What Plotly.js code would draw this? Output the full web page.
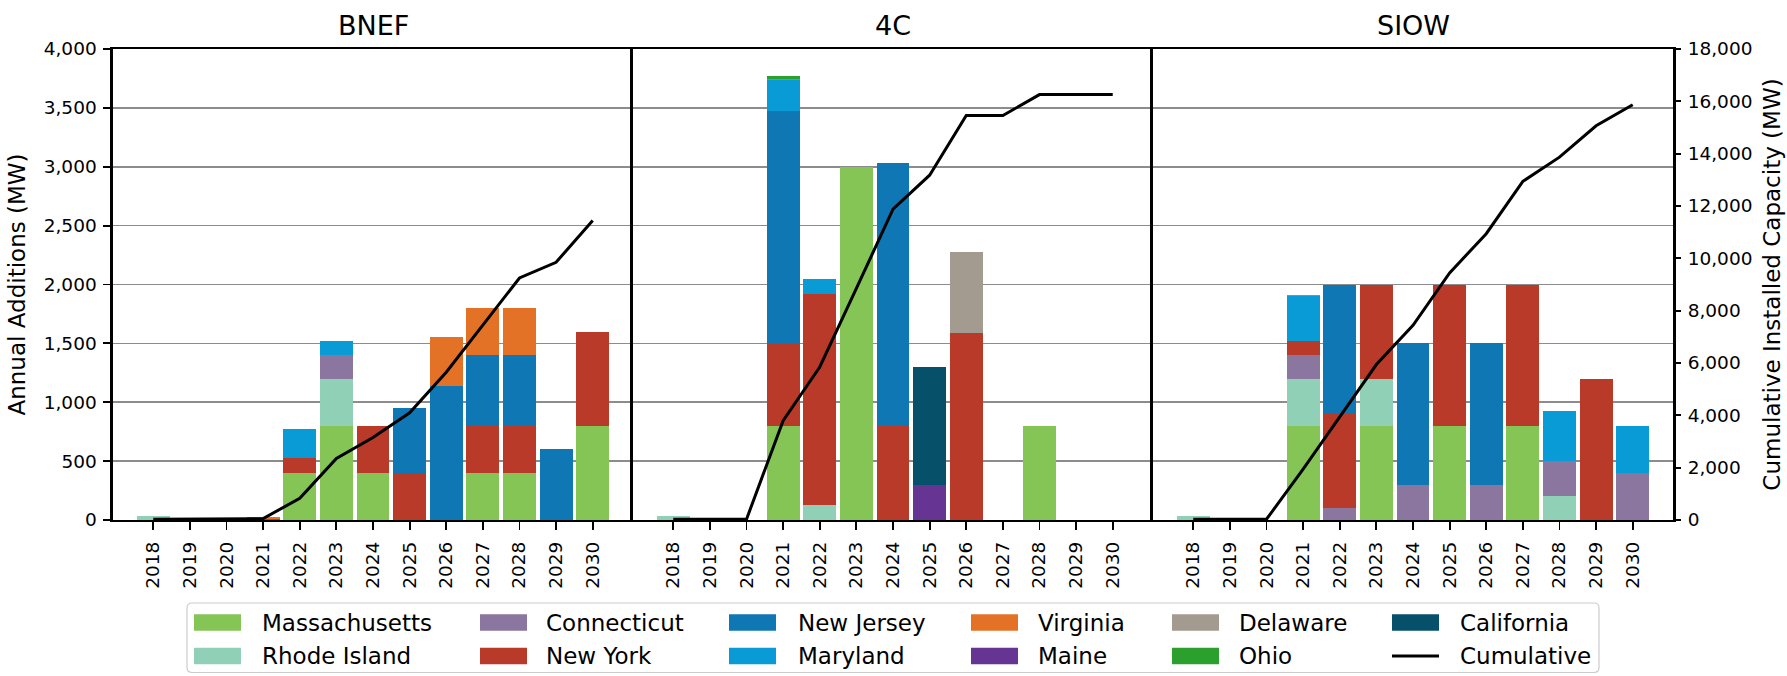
<!DOCTYPE html>
<html>
<head>
<meta charset="utf-8">
<script src="https://cdn.plot.ly/plotly-3.0.1.min.js"></script>
<style>html,body{margin:0;padding:0;background:#fff}#chart{width:1787px;height:676px}</style>
</head>
<body>
<div id="chart"></div>
<script>
// ---------------- DATA ----------------
const years = [2018, 2019, 2020, 2021, 2022, 2023, 2024, 2025, 2026, 2027, 2028, 2029, 2030];
const panelTitles = ['BNEF', '4C', 'SIOW'];
const stateNames = ['Massachusetts', 'Rhode Island', 'Connecticut', 'New York', 'New Jersey',
                    'Maryland', 'Virginia', 'Maine', 'Delaware', 'Ohio', 'California'];
const cumulativeName = 'Cumulative';
const leftTicks = [0, 500, 1000, 1500, 2000, 2500, 3000, 3500, 4000];
const rightTicks = [0, 2000, 4000, 6000, 8000, 10000, 12000, 14000, 16000, 18000];

// BNEF annual additions (MW)
const bnefMassachusetts = [0, 0, 0, 0, 400, 800, 400, 0, 0, 400, 400, 0, 800];
const bnefRhodeIsland   = [30, 0, 0, 0, 0, 400, 0, 0, 0, 0, 0, 0, 0];
const bnefConnecticut   = [0, 0, 0, 0, 0, 200, 0, 0, 0, 0, 0, 0, 0];
const bnefNewYork       = [0, 0, 0, 0, 125, 0, 400, 400, 0, 400, 400, 0, 800];
const bnefNewJersey     = [0, 0, 0, 12, 0, 0, 0, 550, 1140, 600, 600, 600, 0];
const bnefMaryland      = [0, 0, 0, 0, 250, 120, 0, 0, 0, 0, 0, 0, 0];
const bnefVirginia      = [0, 0, 0, 12, 0, 0, 0, 0, 410, 400, 400, 0, 0];
const bnefMaine         = [0, 0, 0, 0, 0, 0, 0, 0, 0, 0, 0, 0, 0];
const bnefDelaware      = [0, 0, 0, 0, 0, 0, 0, 0, 0, 0, 0, 0, 0];
const bnefOhio          = [0, 0, 0, 0, 0, 0, 0, 0, 0, 0, 0, 0, 0];
const bnefCalifornia    = [0, 0, 0, 0, 0, 0, 0, 0, 0, 0, 0, 0, 0];
const bnefCumulative    = [30, 30, 30, 54, 829, 2349, 3149, 4099, 5649, 7449, 9249, 9849, 11449];

// 4C annual additions (MW)
const fourcMassachusetts = [0, 0, 0, 800, 0, 3000, 0, 0, 0, 0, 800, 0, 0];
const fourcRhodeIsland   = [30, 0, 0, 0, 130, 0, 0, 0, 0, 0, 0, 0, 0];
const fourcConnecticut   = [0, 0, 0, 0, 0, 0, 0, 0, 0, 0, 0, 0, 0];
const fourcNewYork       = [0, 0, 0, 700, 1790, 0, 800, 0, 1590, 0, 0, 0, 0];
const fourcNewJersey     = [0, 0, 0, 1975, 0, 0, 2230, 0, 0, 0, 0, 0, 0];
const fourcMaryland      = [0, 0, 0, 260, 130, 0, 0, 0, 0, 0, 0, 0, 0];
const fourcVirginia      = [0, 0, 0, 12, 0, 0, 0, 0, 0, 0, 0, 0, 0];
const fourcMaine         = [0, 0, 0, 0, 0, 0, 0, 300, 0, 0, 0, 0, 0];
const fourcDelaware      = [0, 0, 0, 0, 0, 0, 0, 0, 690, 0, 0, 0, 0];
const fourcOhio          = [0, 0, 0, 21, 0, 0, 0, 0, 0, 0, 0, 0, 0];
const fourcCalifornia    = [0, 0, 0, 0, 0, 0, 0, 1000, 0, 0, 0, 0, 0];
const fourcCumulative    = [30, 30, 30, 3798, 5848, 8848, 11878, 13178, 15458, 15458, 16258, 16258, 16258];

// SIOW annual additions (MW)
const siowMassachusetts = [0, 0, 0, 800, 0, 800, 0, 800, 0, 800, 0, 0, 0];
const siowRhodeIsland   = [30, 0, 0, 400, 0, 400, 0, 0, 0, 0, 200, 0, 0];
const siowConnecticut   = [0, 0, 0, 200, 100, 0, 300, 0, 300, 0, 300, 0, 400];
const siowNewYork       = [0, 0, 0, 120, 800, 800, 0, 1200, 0, 1200, 0, 1200, 0];
const siowNewJersey     = [0, 0, 0, 0, 1100, 0, 1200, 0, 1200, 0, 0, 0, 0];
const siowMaryland      = [0, 0, 0, 380, 0, 0, 0, 0, 0, 0, 425, 0, 400];
const siowVirginia      = [0, 0, 0, 12, 0, 0, 0, 0, 0, 0, 0, 0, 0];
const siowMaine         = [0, 0, 0, 0, 0, 0, 0, 0, 0, 0, 0, 0, 0];
const siowDelaware      = [0, 0, 0, 0, 0, 0, 0, 0, 0, 0, 0, 0, 0];
const siowOhio          = [0, 0, 0, 0, 0, 0, 0, 0, 0, 0, 0, 0, 0];
const siowCalifornia    = [0, 0, 0, 0, 0, 0, 0, 0, 0, 0, 0, 0, 0];
const siowCumulative    = [30, 30, 30, 1942, 3942, 5942, 7442, 9442, 10942, 12942, 13867, 15067, 15867];

// ---------------- STYLE ----------------
const stateColors = ['#84c556', '#8fd0b7', '#8b76a0', '#b93a28', '#1077b5',
                     '#089bd6', '#e37227', '#663594', '#a39a90', '#2ca02c', '#06506a'];
const FONT = 'DejaVu Sans, Verdana, sans-serif';
const W = 1787, H = 676;
const M = {l: 113, r: 114, t: 49, b: 156};
const PW = W - M.l - M.r, PH = H - M.t - M.b;
const px = x => (x - M.l) / PW;
const py = y => (H - M.b - y) / PH;

const panels = [
  {series: [bnefMassachusetts, bnefRhodeIsland, bnefConnecticut, bnefNewYork, bnefNewJersey, bnefMaryland,
            bnefVirginia, bnefMaine, bnefDelaware, bnefOhio, bnefCalifornia], cum: bnefCumulative},
  {series: [fourcMassachusetts, fourcRhodeIsland, fourcConnecticut, fourcNewYork, fourcNewJersey, fourcMaryland,
            fourcVirginia, fourcMaine, fourcDelaware, fourcOhio, fourcCalifornia], cum: fourcCumulative},
  {series: [siowMassachusetts, siowRhodeIsland, siowConnecticut, siowNewYork, siowNewJersey, siowMaryland,
            siowVirginia, siowMaine, siowDelaware, siowOhio, siowCalifornia], cum: siowCumulative}
];

const traces = [];
panels.forEach((p, k) => {
  const xa = k === 0 ? 'x' : 'x' + (k + 1);
  const ya = k === 0 ? 'y' : 'y' + (k + 1);
  const yc = 'y' + (k + 4);
  p.series.forEach((vals, i) => {
    traces.push({
      type: 'bar', x: years, y: vals, name: stateNames[i],
      marker: {color: stateColors[i], line: {width: 0}},
      xaxis: xa, yaxis: ya, showlegend: false, hoverinfo: 'skip'
    });
  });
  traces.push({
    type: 'scatter', mode: 'lines', x: years, y: p.cum, name: cumulativeName,
    line: {color: '#000000', width: 3}, xaxis: xa, yaxis: yc, showlegend: false, hoverinfo: 'skip'
  });
});

const tickFont = {family: FONT, size: 18.5, color: '#000'};
function xAxis(k) {
  return {
    domain: [k / 3, (k + 1) / 3], anchor: k === 0 ? 'y' : 'y' + (k + 1),
    range: [2016.9, 2031.1], tickmode: 'array', tickvals: years, ticktext: years.map(String),
    tickangle: -90, ticks: 'outside', ticklen: 8, tickwidth: 1.8, tickcolor: '#000',
    ticklabelstandoff: 4,
    showline: true, linecolor: '#000', linewidth: 2.2, mirror: true,
    showgrid: false, zeroline: false, tickfont: tickFont, fixedrange: true
  };
}
function yAxis(k) {
  const a = {
    domain: [0, 1], anchor: k === 0 ? 'x' : 'x' + (k + 1),
    range: [0, 4000], tickmode: 'array', tickvals: leftTicks, tickformat: ',d',
    showline: true, linecolor: '#000', linewidth: 2.6, mirror: k === 2,
    showgrid: true, gridcolor: '#8c8c8c', gridwidth: 1.6, zeroline: false,
    tickfont: tickFont, fixedrange: true
  };
  if (k === 0) {
    a.ticks = 'outside'; a.ticklen = 7; a.tickwidth = 1.8; a.tickcolor = '#000';
    a.ticklabelstandoff = 3;
    a.title = {text: 'Annual Additions (MW)', font: {family: FONT, size: 23, color: '#000'}, standoff: 12};
  } else {
    a.showticklabels = false; a.ticks = '';
  }
  return a;
}
function cumAxis(k) {
  const a = {
    overlaying: k === 0 ? 'y' : 'y' + (k + 1), anchor: k === 0 ? 'x' : 'x' + (k + 1),
    range: [0, 18000], showgrid: false, zeroline: false, fixedrange: true
  };
  if (k === 2) {
    a.side = 'right'; a.tickmode = 'array'; a.tickvals = rightTicks; a.tickformat = ',d';
    a.ticks = 'outside'; a.ticklen = 7; a.tickwidth = 1.8; a.tickcolor = '#000';
    a.ticklabelstandoff = 3; a.showline = false; a.tickfont = tickFont;
    a.title = {text: 'Cumulative Installed Capacity (MW)', font: {family: FONT, size: 23, color: '#000'}, standoff: 12};
  } else {
    a.visible = false;
  }
  return a;
}

// ---- legend (drawn as shapes + text, column-major like the original) ----
const legendColSwatchX = [194, 480, 729, 971, 1172, 1392];
const legendColTextX = [261, 545, 797, 1037, 1238, 1459];
const legendRowY = [622.5, 656];
const swW = 47, swH = 16.5;
const shapes = [];
const annotations = [];

// legend frame with rounded corners
(function () {
  const L = px(187), R = px(1599), T = py(603), B = py(672.5);
  const rx = 5 / PW, ry = 5 / PH;
  shapes.push({
    type: 'path', xref: 'paper', yref: 'paper', layer: 'above',
    path: `M ${L + rx},${T} L ${R - rx},${T} Q ${R},${T} ${R},${T - ry} L ${R},${B + ry} Q ${R},${B} ${R - rx},${B} ` +
          `L ${L + rx},${B} Q ${L},${B} ${L},${B + ry} L ${L},${T - ry} Q ${L},${T} ${L + rx},${T} Z`,
    fillcolor: 'rgba(255,255,255,0.8)', line: {color: '#cccccc', width: 1.2}
  });
})();

const legendItems = stateNames.map((n, i) => ({name: n, color: stateColors[i], kind: 'bar'}))
  .concat([{name: cumulativeName, color: '#000', kind: 'line'}]);
legendItems.forEach((it, i) => {
  const col = Math.floor(i / 2), row = i % 2;
  const sx = legendColSwatchX[col], cy = legendRowY[row];
  if (it.kind === 'bar') {
    shapes.push({type: 'rect', xref: 'paper', yref: 'paper', layer: 'above',
      x0: px(sx), x1: px(sx + swW), y0: py(cy - swH / 2), y1: py(cy + swH / 2),
      fillcolor: it.color, line: {width: 0}});
  } else {
    shapes.push({type: 'line', xref: 'paper', yref: 'paper', layer: 'above',
      x0: px(sx), x1: px(sx + swW), y0: py(cy), y1: py(cy),
      line: {color: it.color, width: 3}});
  }
  annotations.push({xref: 'paper', yref: 'paper', x: px(legendColTextX[col]), y: py(cy),
    xanchor: 'left', yanchor: 'middle', text: it.name, showarrow: false, borderpad: 0,
    font: {family: FONT, size: 23, color: '#000'}});
});

// panel titles
panelTitles.forEach((t, k) => {
  annotations.push({xref: 'paper', yref: 'paper', x: (k + 0.5) / 3, y: py(25),
    xanchor: 'center', yanchor: 'middle', text: t, showarrow: false,
    font: {family: FONT, size: 27, color: '#000'}});
});

const layout = {
  width: W, height: H, margin: M, paper_bgcolor: '#fff', plot_bgcolor: '#fff',
  font: {family: FONT, color: '#000'},
  barmode: 'stack', bargap: 0.1, showlegend: false,
  xaxis: xAxis(0), xaxis2: xAxis(1), xaxis3: xAxis(2),
  yaxis: yAxis(0), yaxis2: yAxis(1), yaxis3: yAxis(2),
  yaxis4: cumAxis(0), yaxis5: cumAxis(1), yaxis6: cumAxis(2),
  shapes: shapes, annotations: annotations
};

Plotly.newPlot('chart', traces, layout, {staticPlot: true, displayModeBar: false});
</script>
</body>
</html>
